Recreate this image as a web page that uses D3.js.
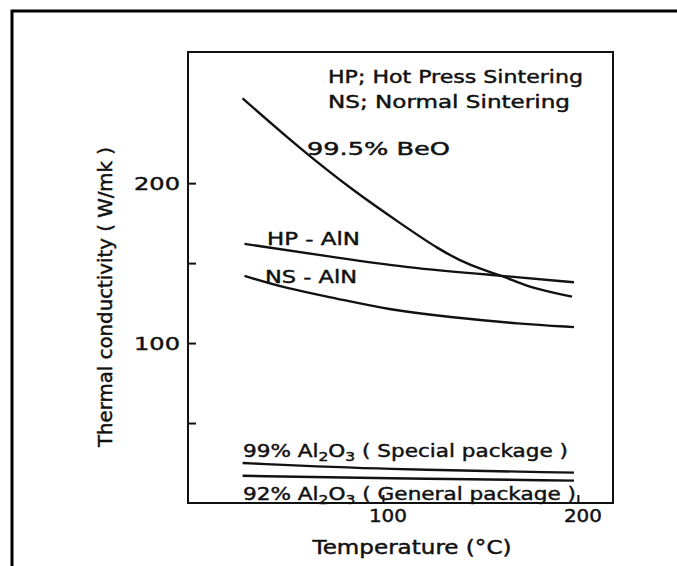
<!DOCTYPE html>
<html>
<head>
<meta charset="utf-8">
<script src="https://cdn.jsdelivr.net/npm/d3@7"></script>
<style>
  html, body { margin: 0; padding: 0; background: #fff; }
  svg { display: block; }
  text { font-family: "DejaVu Sans", "Liberation Sans", sans-serif; fill: #111; stroke: #111; stroke-width: 0.45px; }
</style>
</head>
<body>
<svg id="chart" width="677" height="566"></svg>
<script>
// Temperature (°C) sample points for each curve
const tempsBeO = [28, 57, 85, 110, 128, 145, 162, 174, 197];
const tempsHP = [29, 68, 112, 162, 198];
const tempsNS = [29, 51, 76, 102, 136, 170, 198];
const tempsAlumina = [28, 100, 198];

// Thermal conductivity (W/mK)
const beo = [253, 222, 195, 174, 159, 148, 142, 135, 129];
const hpAlN = [162, 155, 147, 142, 138];
const nsAlN = [142, 134, 128, 121, 116, 112, 110];
const alumina99 = [25, 21, 19];
const alumina92 = [17, 15.5, 14];

const xTicks = [100, 200];
const yTicks = [50, 100, 150, 200];
const yLabelled = [100, 200];

const svg = d3.select("#chart");

// outer frame
svg.append("path")
  .attr("d", "M12,566 L12,11 L677,11")
  .attr("fill", "none").attr("stroke", "#000").attr("stroke-width", 3);

const x = d3.scaleLinear().domain([0, 218]).range([188, 613]);
const y = d3.scaleLinear().domain([0, 282]).range([503, 52]);

// plot box
svg.append("rect")
  .attr("x", x.range()[0]).attr("y", y.range()[1])
  .attr("width", x.range()[1] - x.range()[0])
  .attr("height", y.range()[0] - y.range()[1])
  .attr("fill", "none").attr("stroke", "#111").attr("stroke-width", 2);

// axes: inward ticks, labels placed separately
const gy = svg.append("g").attr("transform", `translate(${x.range()[0]},0)`)
  .call(d3.axisLeft(y).tickValues(yTicks).tickSizeInner(-8).tickSizeOuter(0).tickFormat(""));
gy.select(".domain").remove();
gy.selectAll("line").attr("stroke", "#111").attr("stroke-width", 2);

const gx = svg.append("g").attr("transform", `translate(0,${y.range()[0]})`)
  .call(d3.axisBottom(x).tickValues(xTicks).tickSizeInner(-8).tickSizeOuter(0).tickFormat(""));
gx.select(".domain").remove();
gx.selectAll("line").attr("stroke", "#111").attr("stroke-width", 2);

const tickText = svg.append("g").style("font-size", "18px");
tickText.selectAll("text.yl").data(yLabelled).join("text")
  .attr("class", "yl")
  .attr("x", x.range()[0] - 54).attr("y", d => y(d) + 7)
  .attr("textLength", 46).attr("lengthAdjust", "spacingAndGlyphs")
  .text(d => d3.format("d")(d));
tickText.selectAll("text.xl").data(xTicks).join("text")
  .attr("class", "xl")
  .attr("x", d => x(d) - 14).attr("y", y.range()[0] + 19)
  .attr("textLength", 38).attr("lengthAdjust", "spacingAndGlyphs")
  .text(d => d3.format("d")(d));

// axis titles
svg.append("text")
  .attr("transform", "translate(112,297) rotate(-90)")
  .attr("text-anchor", "middle")
  .style("font-size", "19px")
  .attr("textLength", 300).attr("lengthAdjust", "spacingAndGlyphs")
  .text("Thermal conductivity ( W/mk )");

svg.append("text")
  .attr("x", 412).attr("y", 554)
  .attr("text-anchor", "middle")
  .style("font-size", "19px")
  .attr("textLength", 199).attr("lengthAdjust", "spacingAndGlyphs")
  .text("Temperature (\u00B0C)");

// curves
const line = d3.line().x(d => x(d[0])).y(d => y(d[1])).curve(d3.curveBasis);
const series = [
  { t: tempsBeO, v: beo },
  { t: tempsHP, v: hpAlN },
  { t: tempsNS, v: nsAlN },
  { t: tempsAlumina, v: alumina99 },
  { t: tempsAlumina, v: alumina92 }
];
svg.append("g").selectAll("path").data(series).join("path")
  .attr("d", s => line(d3.zip(s.t, s.v)))
  .attr("fill", "none").attr("stroke", "#111").attr("stroke-width", 2.4);

// legend notes
const notes = svg.append("g").style("font-size", "18px");
notes.append("text").attr("x", 328).attr("y", 83)
  .attr("textLength", 255).attr("lengthAdjust", "spacingAndGlyphs")
  .text("HP; Hot Press Sintering");
notes.append("text").attr("x", 328).attr("y", 108)
  .attr("textLength", 242).attr("lengthAdjust", "spacingAndGlyphs")
  .text("NS; Normal Sintering");

// curve labels
const labels = svg.append("g").style("font-size", "18px");
labels.append("text").attr("x", 307).attr("y", 155)
  .attr("textLength", 143).attr("lengthAdjust", "spacingAndGlyphs")
  .text("99.5% BeO");
labels.append("text").attr("x", 267).attr("y", 245)
  .attr("textLength", 93).attr("lengthAdjust", "spacingAndGlyphs")
  .text("HP - AlN");
labels.append("text").attr("x", 265).attr("y", 283)
  .attr("textLength", 92).attr("lengthAdjust", "spacingAndGlyphs")
  .text("NS - AlN");

function aluminaLabel(xPos, yPos, width, pct, note) {
  const t = labels.append("text").attr("x", xPos).attr("y", yPos)
    .attr("textLength", width).attr("lengthAdjust", "spacingAndGlyphs");
  t.append("tspan").text(pct + " Al");
  t.append("tspan").attr("dy", 4).style("font-size", "13px").text("2");
  t.append("tspan").attr("dy", -4).text("O");
  t.append("tspan").attr("dy", 4).style("font-size", "13px").text("3");
  t.append("tspan").attr("dy", -4).text(" ( " + note + " )");
  return t;
}
aluminaLabel(243, 457, 325, "99%", "Special package");
aluminaLabel(243, 500, 333, "92%", "General package");
</script>
</body>
</html>
